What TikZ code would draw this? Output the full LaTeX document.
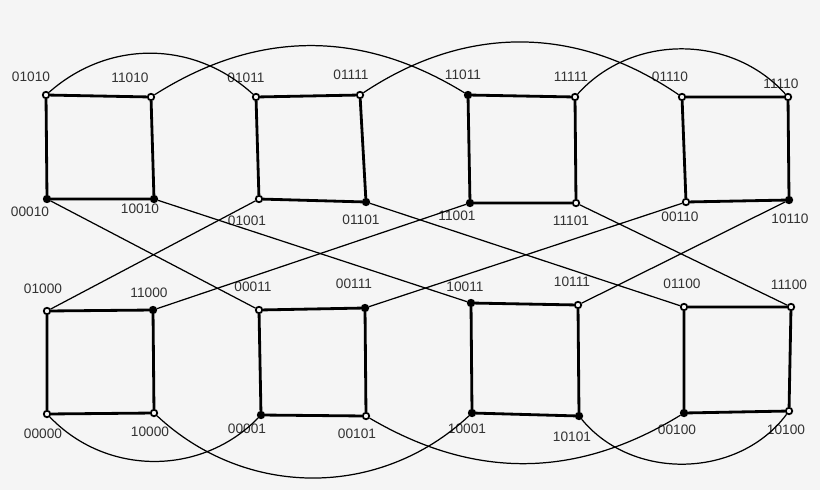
\documentclass[tikz,border=0pt]{standalone}
\usepackage{fontspec}
\setmainfont{Liberation Sans}
\definecolor{bgcol}{HTML}{F5F5F5}
\definecolor{txtcol}{HTML}{333333}
\tikzset{
    vtx/.style={circle, draw=black, fill=black, line width=1pt, inner sep=0pt, minimum size=0.13cm},
    vtxo/.style={vtx, fill=bgcol},
    lbl/.style={text=txtcol, inner sep=0pt, font=\fontsize{7.8}{9}\selectfont},
    sqedge/.style={line width=1.6pt},
    link/.style={line width=0.7pt}
}
\begin{document}
\begin{tikzpicture}[x=0.02cm, y=-0.02cm]
    \fill[bgcol] (0,0) rectangle (820,490);
    \useasboundingbox (0,0) rectangle (820,490);
    % open vertices
    \foreach \n/\x/\y in {01010/46/95, 11010/151/97, 01011/256/97, 01111/360/95,
        01001/259/199, 11111/575/97, 11101/576/203, 01110/682/97, 11110/788/97,
        00110/686/202, 01000/47/311, 00000/47/414, 10000/154/413, 00011/259/310,
        00101/366/416, 10111/578/305, 01100/684/307, 11100/791/307, 10100/789/411}
    {
        \node[vtxo] (v\n) at (\x,\y) {};
    }
    % filled vertices
    \foreach \n/\x/\y in {00010/47/199, 10010/154/199, 01101/366/202, 11011/468/95,
        11001/470/203, 10110/789/200, 11000/153/310, 00111/365/308, 00001/261/415,
        10011/471/303, 10001/472/413, 10101/579/416, 00100/684/413}
    {
        \node[vtx] (v\n) at (\x,\y) {};
    }
    % labels
    \foreach \n/\x/\y in {01010/31/77, 11010/130/78, 01011/246/78, 01111/351/75,
        00010/30/212, 10010/140/209, 01001/247/221, 01101/361/220,
        11011/463/75, 11111/571/77, 01110/670/77, 11110/781/84,
        11001/457/216, 11101/571/221, 00110/680/217, 10110/790/219,
        01000/43/289, 11000/149/293, 00011/253/287, 00111/354/284,
        00000/43/434, 10000/150/432, 00001/247/429, 00101/357/434,
        10011/465/287, 10111/572/282, 01100/682/284, 11100/789/285,
        10001/467/429, 10101/572/437, 00100/677/430, 10100/786/430}
    {
        \node[lbl] (l\n) at (\x,\y) {\n};
    }
    % squares
    \foreach \a/\b/\c/\d in {01010/11010/10010/00010, 01011/01111/01101/01001,
        11011/11111/11101/11001, 01110/11110/10110/00110,
        01000/11000/10000/00000, 00011/00111/00101/00001,
        10011/10111/10101/10001, 01100/11100/10100/00100}
    {
        \draw[sqedge] (v\a) -- (v\b) -- (v\c) -- (v\d) -- (v\a);
    }
    % cross links
    \foreach \a/\b in {00010/00011, 10010/10011, 01001/01000, 01101/01100,
        11001/11000, 11101/11100, 00110/00111, 10110/10111}
    {
        \draw[link] (v\a) -- (v\b);
    }
    % arcs
    \draw[link] (v01010) to[bend left=42] (v01011);
    \draw[link] (v11010) to[bend left=32] (v11011);
    \draw[link] (v01111) to[bend left=34] (v01110);
    \draw[link] (v11111) to[bend left=48] (v11110);
    \draw[link] (v00000) to[bend right=46] (v00001);
    \draw[link] (v10000) to[bend right=43] (v10001);
    \draw[link] (v00101) to[bend right=31] (v00100);
    \draw[link] (v10101) to[bend right=52] (v10100);
\end{tikzpicture}
\end{document}
